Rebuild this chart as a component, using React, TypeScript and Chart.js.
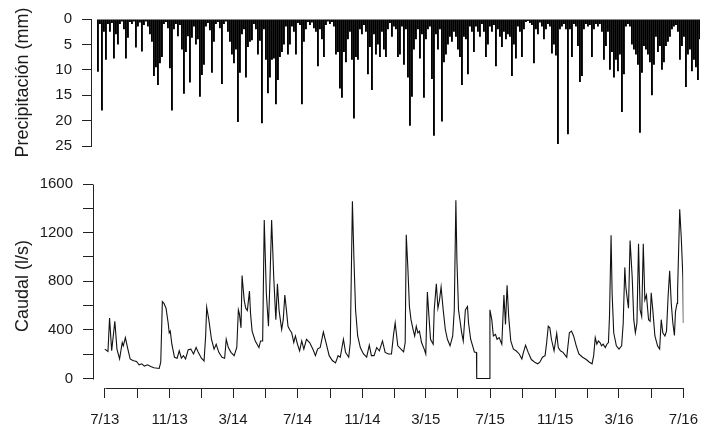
import React, { useEffect, useRef } from "react";
import { Chart, registerables } from "chart.js";

Chart.register(...registerables);

// Daily precipitation (mm), aggregated to ~2 px bins from 7/2013 to 7/2016
const PRECIP_MM = [
  10.4, 1, 18, 2.5, 8, 1, 2.5, 0.8, 7.8, 3,
  5, 1, 0.5, 2, 7.8, 3.7, 0.6, 1, 0.5, 5.6,
  1.5, 0.7, 6.4, 1.2, 0.5, 1.5, 3, 4.5, 11.2, 9.5,
  13, 8.7, 7.5, 1, 0.6, 1.8, 9.7, 18, 2, 1,
  3.4, 1.2, 6, 14.7, 6.5, 3.4, 12.5, 3.7, 1.5, 5,
  4, 15.3, 11, 9, 1.5, 0.8, 2.2, 10.6, 4.5, 1,
  0.6, 1.8, 12.8, 1, 0.5, 2.5, 4.5, 7, 8.7, 6,
  20.3, 10.6, 3, 2, 11.5, 5.5,
  4.5, 4.2, 1, 2,
  7, 4.3, 20.5, 2, 8, 14.6, 11.5, 8, 7.8, 16.8,
  12, 7.5, 6.5, 5, 1.5, 7, 5, 1.5, 2.5, 7,
  0.8, 1.2, 16.8, 4.5, 2, 0.6, 1.2, 0.7, 1.8, 2.5,
  9.3, 2, 4, 7.5, 1.2, 0.5, 1, 0.6, 1.5, 7,
  6.5, 13.7, 15.5, 6.5, 8.5, 4, 2.5, 8, 19.6, 7.5,
  8, 2, 3, 1.2, 2.5, 10.9, 5.5, 14, 3, 7,
  5, 7.5, 2.5, 6, 7.5, 2, 0.8, 3.5, 1.5, 2,
  7.5,
  7, 1.5, 9, 2, 11.5, 21, 15.3, 6, 4,
  2, 7.8, 3, 15.5, 4, 2, 1.5, 11.8, 23, 3,
  6, 2, 20.2, 8.5, 7, 5, 3.5, 4.5, 2.5, 3.5,
  6, 7.5, 13, 3.5, 4, 10.9, 1.5, 2.5, 6.5, 1.5,
  2.5, 3.5, 1, 2.5, 7.5, 5, 1.5, 2.5, 1.2, 9.3,
  2, 3.5, 5.5, 2.5, 4, 3, 3.5, 11.2, 5, 7.8,
  1.5, 2.5, 7.5, 2, 0.6, 0.4, 0.8, 1.2, 8.7, 2,
  3, 0.7, 1.5, 4, 2, 1, 1.5, 6.8,
  5, 7.2, 24.6, 2, 1.5, 1, 2, 22.7, 2, 7.5, 1, 1.5,
  5.3, 12.4, 11.2, 2, 1, 1.5, 1.2, 7.5, 2, 1,
  1.5, 1, 2.5, 8, 5.3, 2.5, 10, 6.5, 11.5, 8,
  10.3, 7, 18.3, 10.9, 1.5, 1, 1.5, 5, 6, 7,
  9, 22.4, 10.6, 5.3, 6, 7, 8.5, 15, 9, 3.5,
  6.5, 5.3, 10, 8.5, 5.3, 4.5, 3.5, 2, 1.5, 1.2,
  2.5, 8, 5.3, 3.5, 13.4, 7, 6, 10.3, 8, 9.5,
  12, 4,
];

// Discharge: day since 1 July 2013, and flow (l/s)
const Q_DAYS = [
  0, 6, 9, 13, 19, 23, 28, 33, 35, 39, 43, 48, 53, 60, 65, 70, 75, 81, 87, 93,
  103, 106, 109, 112, 116, 120, 122, 124, 127, 132, 137, 141, 145, 149, 153, 158, 163, 168, 173, 177,
  183, 188, 191, 193, 197, 202, 207, 211, 216, 222, 227, 230, 234, 239, 245, 250, 253, 255, 258, 260,
  264, 267, 270, 274, 276, 279, 285, 292, 295, 299, 302, 306, 310, 313, 316, 320, 323, 324, 327, 330,
  335, 338, 341, 344, 347, 350, 354, 358, 361, 365, 369, 373, 377, 382, 388, 394, 399, 403, 408, 414,
  419, 425, 431, 437, 442, 446, 452, 456, 462, 465, 469, 472, 475, 479, 484, 490, 496, 501, 505, 510,
  515, 520, 526, 531, 537, 543, 547, 550, 555, 561, 566, 569, 571, 574, 577, 580, 584, 587, 590, 593,
  596, 600, 605, 608, 611, 614, 617, 622, 624, 628, 631, 634, 637, 641, 645, 649, 654, 659, 662, 665,
  667, 670, 673, 676, 679, 683, 687, 689, 693, 698, 700, 704, 704.5, 729, 729.5, 733, 736, 740, 743, 747,
  752, 756, 759, 762, 765, 769, 774, 779, 785, 790, 793, 797, 802, 808, 816, 820, 824, 829, 834, 837,
  840, 843, 846, 851, 856, 859, 863, 868, 875, 880, 884, 888, 893, 898, 905, 912, 918, 923, 926, 929,
  932, 935, 938, 941, 944, 948, 951, 954, 956, 959, 961, 964, 969, 974, 979, 982, 985, 987, 990, 992,
  995, 999, 1002, 1005, 1008, 1011, 1014, 1017, 1020, 1023, 1026, 1030, 1033, 1035, 1038, 1042, 1047, 1051, 1054, 1057,
  1061, 1064, 1067, 1070, 1073, 1076, 1079, 1081, 1084, 1085, 1089, 1092, 1095, 1096,
];
const Q_LS = [
  242, 223, 497, 228, 470, 242, 161, 296, 269, 336, 255, 161, 148, 140, 113, 121, 102, 113, 99, 89,
  83, 134, 632, 618, 578, 457, 376, 390, 282, 175, 167, 228, 167, 188, 161, 237, 242, 202, 255, 215,
  167, 145, 350, 586, 484, 323, 242, 282, 215, 175, 167, 323, 255, 215, 188, 255, 565, 532, 417, 847,
  645, 578, 560, 720, 538, 390, 309, 255, 309, 309, 1304, 699, 430, 833, 1304, 833, 565, 484, 780, 565,
  403, 484, 686, 565, 430, 403, 376, 296, 350, 282, 228, 309, 242, 323, 296, 242, 188, 242, 255, 382,
  296, 188, 148, 129, 188, 175, 323, 215, 175, 296, 1458, 968, 565, 350, 255, 202, 175, 274, 188, 188,
  255, 228, 309, 215, 202, 202, 363, 457, 269, 242, 220, 296, 1183, 914, 592, 484, 403, 350, 430, 376,
  390, 296, 242, 202, 712, 511, 323, 282, 565, 780, 578, 645, 753, 565, 403, 323, 269, 350, 565, 1466,
  968, 565, 471, 376, 309, 565, 592, 457, 323, 250, 218, 215, 0, 0, 565, 484, 350, 363, 323, 336,
  282, 686, 444, 767, 511, 309, 242, 228, 202, 161, 215, 274, 215, 156, 129, 121, 134, 175, 188, 296,
  430, 417, 323, 228, 371, 255, 228, 215, 175, 376, 390, 350, 269, 202, 175, 156, 134, 121, 188, 336,
  282, 309, 296, 269, 282, 255, 282, 296, 511, 1178, 699, 376, 269, 242, 269, 457, 914, 753, 645, 578,
  1135, 834, 484, 376, 457, 1108, 565, 511, 1108, 645, 686, 484, 471, 705, 565, 350, 269, 242, 484, 376,
  350, 390, 672, 887, 618, 457, 355, 551, 618, 726, 1393, 1156, 834, 457,
];

// Month ticks (days since 1 July 2013) and their labels
const TICK_DAYS = [0, 62, 123, 184, 243, 304, 365, 427, 488, 549, 608, 669, 730, 792, 853, 914, 974, 1035, 1096];
const TICK_LABELS = ["7/13", "", "11/13", "", "3/14", "", "7/14", "", "11/14", "", "3/15", "", "7/15", "", "11/15", "", "3/16", "", "7/16"];
const Q_TICKS = [0, 200, 400, 600, 800, 1000, 1200, 1400, 1600];

const FONT_FAMILY = "'Liberation Sans', Arial, Helvetica, sans-serif";
const INK = "#1a1a1a";

const axisLines = {
  id: "axisLines",
  afterDraw(chart: any) {
    const { ctx, chartArea, scales } = chart;
    const xs = scales.x;
    const ys = scales.y;
    ctx.save();
    ctx.strokeStyle = "#222";
    ctx.lineWidth = 1;
    ctx.beginPath();
    const lx = Math.round(chartArea.left) + 0.5;
    ctx.moveTo(lx, Math.round(ys.getPixelForValue(Q_TICKS[0])) + 0.5);
    ctx.lineTo(lx, Math.round(ys.getPixelForValue(Q_TICKS[Q_TICKS.length - 1])) + 0.5);
    const by = Math.round(chartArea.bottom) + 0.5;
    ctx.moveTo(Math.round(xs.getPixelForValue(TICK_DAYS[0])) + 0.5, by);
    ctx.lineTo(Math.round(xs.getPixelForValue(TICK_DAYS[TICK_DAYS.length - 1])) + 0.5, by);
    ctx.stroke();
    ctx.restore();
  },
};

export default function App() {
  const topRef = useRef<HTMLCanvasElement>(null);
  const botRef = useRef<HTMLCanvasElement>(null);

  useEffect(() => {
    const tickFont = { family: FONT_FAMILY, size: 15 };
    const titleFont = { family: FONT_FAMILY, size: 18 };

    const top = new Chart(topRef.current as HTMLCanvasElement, {
      type: "bar",
      data: {
        datasets: [
          {
            data: PRECIP_MM.map((v, i) => ({ x: i, y: v })),
            backgroundColor: "#000",
            borderWidth: 0,
            barPercentage: 0.95,
            categoryPercentage: 1,
          },
        ],
      },
      options: {
        responsive: false,
        animation: false,
        layout: { padding: { left: 0, right: 11, top: 19, bottom: 12 } },
        plugins: { legend: { display: false }, tooltip: { enabled: false } },
        scales: {
          x: { type: "linear", min: -3.475, max: 301.025, display: false, offset: false },
          y: {
            reverse: true,
            min: 0,
            max: 25,
            afterFit: (s: any) => {
              s.width = 91;
            },
            ticks: {
              stepSize: 2.5,
              callback: (v: any) => (Number(v) % 5 === 0 ? String(v) : ""),
              font: tickFont,
              color: INK,
              padding: 10,
            },
            grid: { drawOnChartArea: false, drawTicks: true, tickLength: 9, color: "#222" },
            border: { display: true, color: "#222" },
            title: {
              display: true,
              text: "Precipitación (mm)",
              font: titleFont,
              color: INK,
              padding: { top: 12, bottom: 0 },
            },
          },
        },
      } as any,
    });

    const bot = new Chart(botRef.current as HTMLCanvasElement, {
      type: "line",
      data: {
        datasets: [
          {
            data: Q_DAYS.map((d, i) => ({ x: d, y: Q_LS[i] })),
            borderColor: "#111",
            borderWidth: 1.1,
            pointRadius: 0,
            tension: 0,
            fill: false,
          },
        ],
      },
      options: {
        responsive: false,
        animation: false,
        layout: { padding: { left: 0, right: 18, top: 15, bottom: 0 } },
        plugins: { legend: { display: false }, tooltip: { enabled: false } },
        scales: {
          x: {
            type: "linear",
            min: -22.37,
            max: 1096,
            afterFit: (s: any) => {
              s.height = 44;
            },
            afterBuildTicks: (s: any) => {
              s.ticks = TICK_DAYS.map((v) => ({ value: v }));
            },
            ticks: {
              autoSkip: false,
              maxRotation: 0,
              minRotation: 0,
              callback: (_v: any, i: number) => TICK_LABELS[i] ?? "",
              font: tickFont,
              color: INK,
              padding: 13,
            },
            grid: { drawOnChartArea: false, drawTicks: true, tickLength: 10, color: "#222" },
            border: { display: false },
          },
          y: {
            min: -78,
            max: 1600,
            afterFit: (s: any) => {
              s.width = 93;
            },
            afterBuildTicks: (s: any) => {
              s.ticks = Q_TICKS.map((v) => ({ value: v }));
            },
            ticks: {
              callback: (v: any) => (Number(v) % 400 === 0 ? String(v) : ""),
              font: tickFont,
              color: INK,
              padding: 10,
            },
            grid: { drawOnChartArea: false, drawTicks: true, tickLength: 10, color: "#222" },
            border: { display: false },
            title: {
              display: true,
              text: "Caudal (l/s)",
              font: titleFont,
              color: INK,
              padding: { top: 12, bottom: 0 },
            },
          },
        },
      } as any,
      plugins: [axisLines],
    });

    return () => {
      top.destroy();
      bot.destroy();
    };
  }, []);

  return (
    <div
      style={{
        position: "fixed",
        left: 0,
        top: 0,
        width: 711,
        height: 432,
        background: "#fff",
        overflow: "hidden",
      }}
    >
      <canvas
        ref={topRef}
        width={711}
        height={165}
        style={{ position: "absolute", left: 0, top: 0, width: 711, height: 165 }}
      />
      <canvas
        ref={botRef}
        width={711}
        height={267}
        style={{ position: "absolute", left: 0, top: 165, width: 711, height: 267 }}
      />
    </div>
  );
}
